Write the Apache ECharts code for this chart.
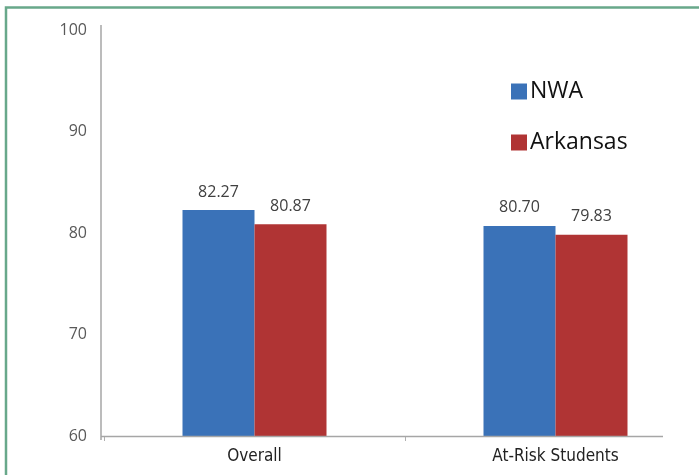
<!DOCTYPE html>
<html>
<head>
<meta charset="utf-8">
<script src="https://cdn.jsdelivr.net/npm/echarts@6/dist/echarts.min.js"></script>
<style>html,body{margin:0;padding:0;background:#fff;overflow:hidden;width:699px;height:475px}#c{width:720px;height:475px}</style>
</head>
<body>
<div id="c"></div>
<script>
const categories = ['Overall', 'At-Risk Students'];
const nwaValues = [82.27, 80.70];
const arkansasValues = [80.87, 79.83];
const seriesNames = ['NWA', 'Arkansas'];
const yTicks = [60, 70, 80, 90, 100];

const chart = echarts.init(document.getElementById('c'), null, {renderer: 'canvas'});
const labelStyle = {
  show: true, position: 'top', distance: 10,
  formatter: p => p.value.toFixed(2),
  fontFamily: 'Open Sans', fontSize: 16, color: '#404040'
};
chart.setOption({
  animation: false,
  backgroundColor: '#fff',
  graphic: [
    {type: 'rect', shape: {x: 6, y: 7.5, width: 800, height: 600},
     style: {fill: 'none', stroke: '#68a88a', lineWidth: 2.5}, z: 100},
    {type: 'line', shape: {x1: 101, y1: 436.5, x2: 663, y2: 436.5},
     style: {stroke: '#a6a6a6', lineWidth: 1.5}, z: 50},
    {type: 'line', shape: {x1: 101, y1: 25, x2: 101, y2: 440},
     style: {stroke: '#a6a6a6', lineWidth: 1.5}, z: 50}
  ],
  legend: {
    orient: 'vertical', left: 506, top: 75,
    itemWidth: 16, itemHeight: 16, itemGap: 28,
    icon: 'rect',
    textStyle: {fontFamily: 'Open Sans', fontSize: 23, color: '#111', padding: [0, 0, 0, -2]},
    data: seriesNames
  },
  grid: {left: 104, width: 602, top: 30, bottom: 39, containLabel: false},
  xAxis: {
    type: 'category', data: categories,
    axisLine: {show: false},
    axisTick: {show: true, length: 5, lineStyle: {color: '#b0b0b0'}},
    axisLabel: {fontFamily: 'Liberation Sans Narrow, DejaVu Sans Condensed, Roboto', fontSize: 17, color: '#222', margin: 12}
  },
  yAxis: {
    type: 'value', min: yTicks[0], max: yTicks[yTicks.length - 1], interval: 10,
    splitLine: {show: false},
    axisLine: {show: false},
    axisTick: {show: false},
    axisLabel: {fontFamily: 'Open Sans', fontSize: 16, color: '#595959', margin: 17}
  },
  series: [
    {name: seriesNames[0], type: 'bar', data: nwaValues, barWidth: 72, barGap: '0%',
     itemStyle: {color: '#3a72b8'}, label: labelStyle},
    {name: seriesNames[1], type: 'bar', data: arkansasValues, barWidth: 72,
     itemStyle: {color: '#b03434'}, label: labelStyle}
  ]
});
</script>
</body>
</html>
